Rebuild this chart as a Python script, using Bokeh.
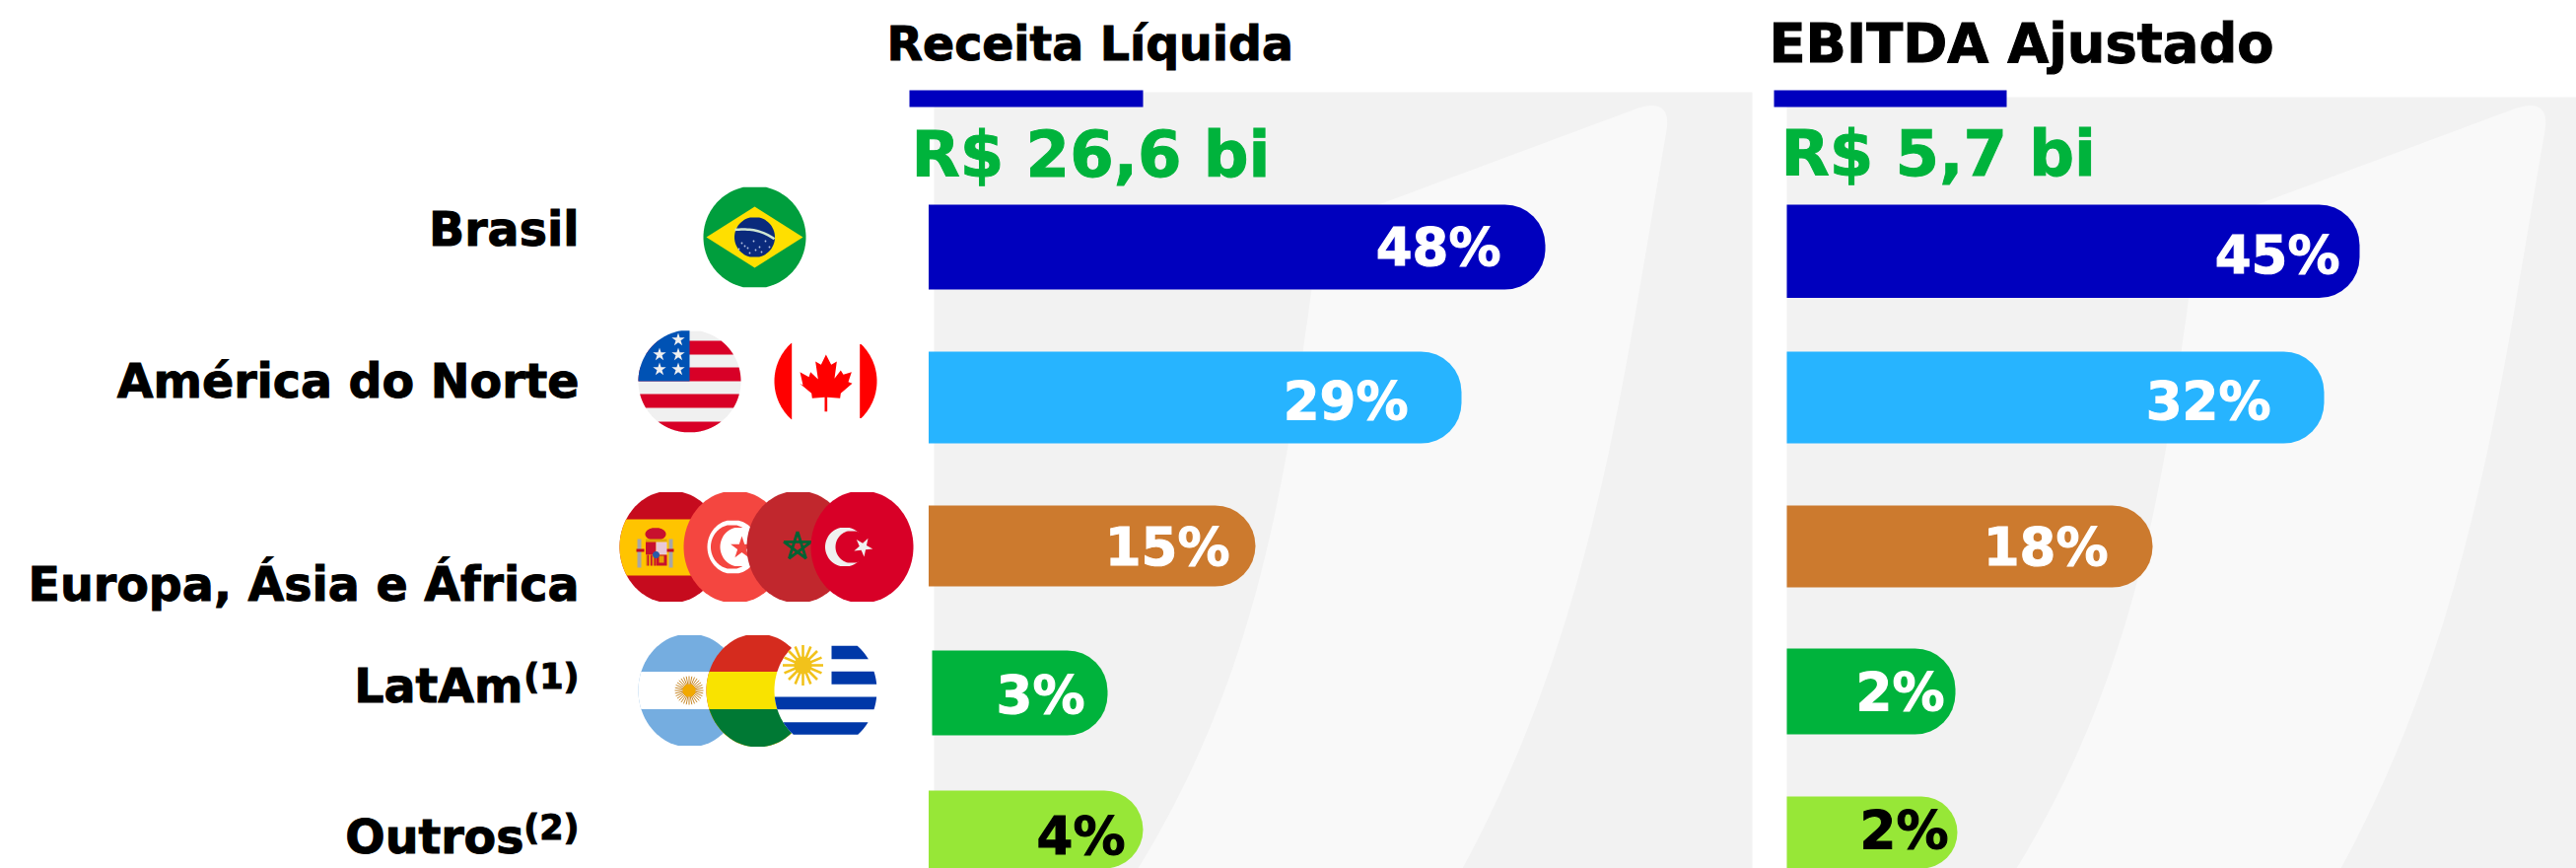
import numpy as np
from bokeh.plotting import figure
from bokeh.models import Range1d
from bokeh.core.properties import value
from bokeh.embed import file_html
from bokeh.resources import INLINE

# ---- data ----
categories = ["Brasil", "América do Norte", "Europa, Ásia e África", "LatAm", "Outros"]
footnotes = ["", "", "", "(1)", "(2)"]
receita_pct = [48, 29, 15, 3, 4]
ebitda_pct = [45, 32, 18, 2, 2]
# the bars of the original are not proportional to their labels: lengths as drawn
receita_len = [625.5, 540.5, 331.5, 178, 217.5]
ebitda_len = [581, 545, 371, 171, 173]
panel_titles = ["Receita Líquida", "EBITDA Ajustado"]
panel_totals = ["R$ 26,6 bi", "R$ 5,7 bi"]

# ---- layout and style ----
bar_colors = ["#0000BE", "#27B4FF", "#CC7A2E", "#00B33C", "#97E737"]
label_colors = ["white", "white", "white", "white", "black"]
FONT = value("DejaVu Sans")
BASE = 0.38  # baseline correction of the renderer, in font sizes
X0 = [[941.5, 941.5, 941.5, 945, 941.5], [1812] * 5]
TOPS = [[207, 356, 512, 659, 801], [207, 356, 512, 657, 807]]
BOTS = [[293, 449, 594, 745, 886], [301.5, 449, 595, 744, 884]]
LABEL_X = [[1522, 1428, 1247, 1100, 1141], [2373, 2303, 2138, 1972, 1976]]
LABEL_Y = [[270, 426, 574, 724, 867], [278, 426, 574, 721, 861]]
CAT_Y = [250, 404, 610, 713, 866]
CAT_R = [587, 587, 587, 530, 531]
SUP_Y = [0, 0, 0, 699, 852]

p = figure(width=2613, height=880, x_range=Range1d(0, 2613), y_range=Range1d(880, 0),
           output_backend="svg", toolbar_location=None, min_border=0)
p.axis.visible = False
p.grid.visible = False
p.outline_line_color = None
p.background_fill_color = "white"
p.border_fill_color = "white"


def region(cx, cy, rx, ry, x0=-1e9, x1=1e9, y0=-1e9, y1=1e9):
    a = max(cy - ry, y0)
    b = min(cy + ry, y1)
    ys = np.linspace(a, b, 80)
    w = rx * np.sqrt(np.clip(1 - ((ys - cy) / ry) ** 2, 0, 1))
    xl = np.maximum(cx - w, x0)
    xr = np.minimum(cx + w, x1)
    keep = xl < xr
    return np.r_[xl[keep], xr[keep][::-1]], np.r_[ys[keep], ys[keep][::-1]]


def fill(xs, ys, color):
    p.patch(list(xs), list(ys), fill_color=color, line_color=None)


def disc(cx, cy, rx, ry, color, **kw):
    fill(*region(cx, cy, rx, ry, **kw), color)


def rect(x0, y0, x1, y1, color):
    fill([x0, x1, x1, x0], [y0, y0, y1, y1], color)


def star(cx, cy, R, color, rot=-90.0, ratio=0.382):
    ang = np.radians(rot + np.arange(10) * 36.0)
    rad = np.where(np.arange(10) % 2 == 0, R, R * ratio)
    fill(cx + rad * np.cos(ang), cy + rad * np.sin(ang), color)


def sun(cx, cy, r0, r1, n, ray, face, rface, width=1.0):
    ang = np.linspace(0, 2 * np.pi, n, endpoint=False)
    p.segment(cx + r0 * np.cos(ang), cy + r0 * np.sin(ang),
              cx + r1 * np.cos(ang), cy + r1 * np.sin(ang),
              line_color=ray, line_width=width)
    disc(cx, cy, rface, rface, face)


def bez(p0, c, p1, n=14):
    t = np.linspace(0, 1, n)[:, None]
    return (1 - t) ** 2 * np.array(p0) + 2 * t * (1 - t) * np.array(c) + t ** 2 * np.array(p1)


def label(x, y, text, size, color="black", align="left"):
    p.text(x=x, y=[v - BASE * size for v in y], text=text, text_color=color, text_font=FONT,
           text_font_style="bold", text_font_size=f"{size}px", text_align=align,
           text_baseline="alphabetic", text_outline_color=color)


# ---- panel backgrounds ----
rect(947, 93, 1777, 880, "#F2F2F2")
rect(1812, 98, 2613, 880, "#F2F2F2")
corner = bez((1652, 112.5), (1696, 94), (1690, 132))
# edges of the background swoosh: smooth curves through points
left_y = np.array([229, 293, 600, 640, 800, 880])
left_x = np.array([1338, 1331, 1273, 1261, 1200, 1153])
right_y = np.array([132, 380, 600, 777, 880])
right_x = np.array([1690, 1647, 1596, 1533, 1483])
ly = np.linspace(229, 880, 60)
ry_ = np.linspace(132, 880, 60)
lx = np.polyval(np.polyfit(left_y, left_x, 3), ly)
rx_ = np.polyval(np.polyfit(right_y, right_x, 3), ry_)
sw_x = np.r_[corner[:, 0], rx_, lx[::-1]]
sw_y = np.r_[corner[:, 1], ry_, ly[::-1]]
fill(sw_x, sw_y, "#F9F9F9")
fill(sw_x + 891, sw_y, "#F9F9F9")

# header stripes
rect(922, 91, 1159, 108, "#0000BE")
rect(1799, 91, 2035, 108, "#0000BE")

# ---- bars ----
for k, lens in enumerate([receita_len, ebitda_len]):
    xs = X0[k]
    p.hbar(y=[(a + b) / 2 for a, b in zip(TOPS[k], BOTS[k])],
           height=[b - a for a, b in zip(TOPS[k], BOTS[k])],
           left=xs, right=[x + v for x, v in zip(xs, lens)],
           fill_color=bar_colors, line_color=None,
           border_radius=(0, 41, 41, 0))

# ---- value labels ----
for k, pcts in enumerate([receita_pct, ebitda_pct]):
    label(LABEL_X[k], LABEL_Y[k], [f"{v}%" for v in pcts], 53, label_colors, "right")

# ---- titles ----
label([899], [62], panel_titles[:1], 47.4)
label([1794], [65], panel_titles[1:], 54.3)
label([924, 1806], [181, 180], panel_totals, 64, "#00B33C")

# ---- category labels ----
label(CAT_R, CAT_Y, categories, 47.5, "black", "right")
label([587, 587], SUP_Y[3:], footnotes[3:], 35, "black", "right")

# ---- flags ----
# Brazil
cx, cy, r = 765, 240, 52
disc(cx, cy, r, r, "#009E3D")
fill([716, 765, 814, 765], [240, 209, 240, 271], "#FFDF00")
disc(cx, cy, 20.5, 20.5, "#0A2A7C")
t = np.linspace(0, 1, 20)
p.line(745 + 40 * t, 232.5 - 1.5 * np.sin(t * 2.2) + 10.5 * t ** 2.5, line_color="#CFE6D2", line_width=2.5)
p.scatter([752, 758, 764, 770, 776, 749, 760, 772, 766, 780, 755],
          [246, 251, 244, 250, 244, 252, 256, 255, 253, 250, 249],
          size=1.8, marker="circle", fill_color="#B9C6E4", line_color=None)

# USA
cx, cy, r = 699, 386, 52
disc(cx, cy, r, r, "#F0F0F0")
for a, b in [(345, 359), (372, 386), (399, 413), (427, 439)]:
    disc(cx, cy, r, r, "#D80027", y0=a, y1=b)
disc(cx, cy, r, r, "#0052B4", x1=699, y1=386)
for sx, sy in [(687.5, 344), (668.5, 359), (687.5, 359), (649.5, 374), (668.5, 374), (687.5, 374), (668.5, 344), (650, 359)]:
    if (sx - cx) ** 2 + (sy - cy) ** 2 < (r - 3) ** 2:
        star(sx, sy, 7, "#F0F0F0")

# Canada
cx = 837
disc(cx, cy, r, r, "#FFFFFF")
disc(cx, cy, r, r, "#FF0000", x1=802.7)
disc(cx, cy, r, r, "#FF0000", x0=871.7)
leaf_x = [712, 697, 680, 688, 665, 660, 633, 642, 632, 668, 670, 708, 708, 716, 716, 755, 757, 792, 780, 790, 765, 757, 738, 745, 728]
leaf_y = [597, 628, 618, 672, 650, 665, 650, 690, 685, 715, 730, 727, 770, 770, 727, 730, 715, 685, 680, 650, 658, 645, 670, 618, 628]
fill(600 + np.array(leaf_x) / 3, 160 + np.array(leaf_y) / 3, "#FF0000")

# Spain
cx, cy, rx, ry = 680, 554, 52, 57
disc(cx, cy, rx, ry, "#C60B1E")
disc(cx, cy, rx, ry, "#FFC400", y0=526, y1=583)
rect(646, 546, 650, 575, "#A7A7A7")
rect(678, 546, 682, 575, "#A7A7A7")
rect(645, 556, 653, 559, "#C60B1E")
rect(675, 556, 683, 559, "#C60B1E")
disc(664.5, 541, 10.5, 6.5, "#C8102E", y1=547)
rect(654.5, 546, 676, 549, "#E0A800")
rect(654.5, 549, 665, 562, "#C8102E")
rect(665, 549, 676, 562, "#E8C8D8")
rect(654.5, 562, 665, 573, "#E8A000")
for sx in (656, 659.5, 663):
    rect(sx, 562, sx + 1.6, 573, "#C8102E")
rect(665, 562, 676, 573, "#C8102E")
rect(668, 563, 673, 570, "#E8A000")
disc(665, 562, 3.5, 3.5, "#2B5BA8")

# Tunisia
cx = 745
disc(cx, cy, rx, ry, "#F44640")
disc(743, 554, 26, 27.5, "#FFFFFF")
disc(742, 554, 21.5, 22.5, "#F44640")
disc(749.5, 554, 19.5, 20, "#FFFFFF")
star(752, 555, 12, "#F44640")

# Morocco
cx = 809
disc(cx, cy, rx, ry, "#C1272D")
ang = np.radians(-90 + np.arange(6) * 144.0)
p.line(808.5 + 14.5 * np.cos(ang), 553.5 + 15 * np.sin(ang), line_color="#006233", line_width=2.8)

# Turkey
cx = 874
disc(cx, cy, rx, ry, "#D80027")
disc(856.5, 554, 20, 20, "#F0F0F0")
disc(863.5, 554, 16.5, 16.5, "#D80027")
star(875, 554, 10, "#F0F0F0", rot=-60)

# Argentina
cx, cy, rx, ry = 699, 699.5, 52, 57.5
disc(cx, cy, rx, ry, "#75ADE0")
disc(cx, cy, rx, ry, "#FFFFFF", y0=680.5, y1=718.5)
sun(698.5, 699.5, 5, 14.5, 32, "#C98A2B", "#F2A900", 6.5, 1.0)

# Bolivia
cx = 768
disc(cx, cy, rx, ry, "#D52B1E")
disc(cx, cy, rx, ry, "#F9E300", y0=680.5)
disc(cx, cy, rx, ry, "#007934", y0=718.5)

# Uruguay
cx = 837
disc(cx, cy, rx, ry, "#FFFFFF")
for a, b in [(654.3, 667.7), (680.3, 693.3)]:
    disc(cx, cy, rx, ry, "#0038A8", x0=843, y0=a, y1=b)
for a, b in [(706, 718.7), (731.7, 744.3)]:
    disc(cx, cy, rx, ry, "#0038A8", y0=a, y1=b)
sun(814, 674, 6, 20.5, 16, "#F2C21B", "#F2C21B", 9, 2.6)

open("out.html", "w").write(file_html(p, INLINE))
